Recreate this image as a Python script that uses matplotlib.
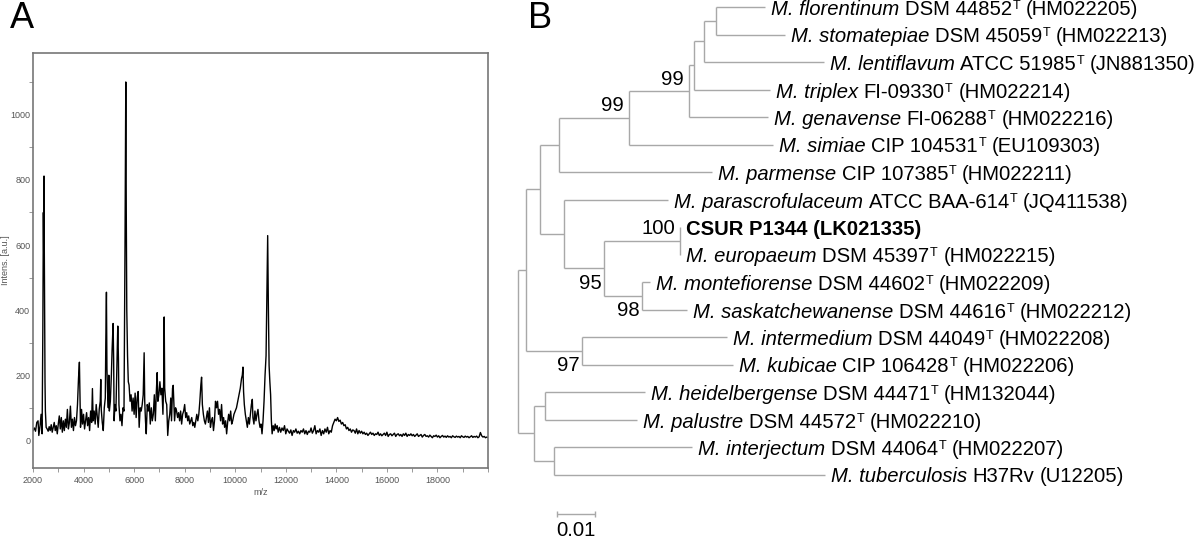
import matplotlib.pyplot as plt
from matplotlib.ticker import MultipleLocator

plt.rcParams['font.family'] = ['Liberation Sans', 'DejaVu Sans']

# ---------------- panel A: MALDI-TOF spectrum ----------------
spec_mz = [
    2000, 2050, 2100, 2150, 2200, 2230, 2280, 2320, 2360, 2390,
    2410, 2425, 2436, 2445, 2460, 2475, 2490, 2520, 2560, 2600,
    2640, 2680, 2720, 2760, 2800, 2840, 2880, 2920, 2960, 3000,
    3040, 3080, 3120, 3160, 3200, 3240, 3280, 3320, 3360, 3400,
    3440, 3480, 3520, 3560, 3600, 3640, 3680, 3720, 3760, 3800,
    3836, 3860, 3880, 3920, 3960, 4000, 4040, 4080, 4120, 4160,
    4200, 4240, 4280, 4320, 4351, 4380, 4420, 4460, 4500, 4540,
    4580, 4620, 4660, 4681, 4700, 4740, 4780, 4820, 4860, 4880,
    4905, 4925, 4950, 4980, 5000, 5020, 5060, 5100, 5130, 5169,
    5190, 5210, 5240, 5280, 5310, 5354, 5380, 5400, 5440, 5480,
    5520, 5560, 5600, 5640, 5671, 5690, 5710, 5740, 5770, 5800,
    5840, 5880, 5920, 5960, 6000, 6040, 6080, 6120, 6160, 6200,
    6240, 6280, 6320, 6360, 6397, 6420, 6450, 6480, 6520, 6560,
    6600, 6640, 6680, 6720, 6760, 6800, 6840, 6880, 6913, 6940,
    6980, 7020, 7060, 7100, 7140, 7170, 7190, 7210, 7250, 7290,
    7330, 7370, 7410, 7450, 7480, 7520, 7546, 7570, 7600, 7640,
    7680, 7720, 7760, 7800, 7840, 7880, 7920, 7960, 8000, 8040,
    8080, 8120, 8160, 8200, 8240, 8280, 8320, 8360, 8400, 8440,
    8480, 8520, 8560, 8600, 8640, 8669, 8700, 8740, 8780, 8820,
    8860, 8900, 8940, 8980, 9020, 9060, 9100, 9140, 9180, 9220,
    9260, 9300, 9340, 9380, 9420, 9460, 9500, 9540, 9580, 9620,
    9660, 9700, 9740, 9780, 9820, 9860, 9900, 9950, 10000, 10050,
    10100, 10150, 10200, 10250, 10280, 10307, 10330, 10360, 10400, 10440,
    10480, 10520, 10560, 10600, 10640, 10676, 10700, 10740, 10780, 10820,
    10860, 10900, 10940, 10980, 11020, 11060, 11100, 11140, 11180, 11220,
    11250, 11284, 11310, 11340, 11370, 11400, 11430, 11460, 11500, 11540,
    11580, 11620, 11660, 11700, 11750, 11800, 11850, 11900, 11950, 12000,
    12050, 12100, 12150, 12200, 12250, 12300, 12350, 12400, 12450, 12500,
    12550, 12600, 12650, 12700, 12750, 12800, 12850, 12900, 12950, 13000,
    13050, 13100, 13150, 13200, 13250, 13300, 13350, 13400, 13450, 13500,
    13550, 13600, 13650, 13700, 13750, 13800, 13850, 13900, 13950, 14000,
    14050, 14100, 14150, 14200, 14250, 14300, 14350, 14400, 14450, 14500,
    14550, 14600, 14650, 14700, 14750, 14800, 14850, 14900, 14950, 15000,
    15050, 15100, 15150, 15200, 15250, 15300, 15350, 15400, 15450, 15500,
    15550, 15600, 15650, 15700, 15750, 15800, 15850, 15900, 15950, 16000,
    16050, 16100, 16150, 16200, 16250, 16300, 16350, 16400, 16450, 16500,
    16550, 16600, 16650, 16700, 16750, 16800, 16850, 16900, 16950, 17000,
    17050, 17100, 17150, 17200, 17250, 17300, 17350, 17400, 17450, 17500,
    17550, 17600, 17650, 17700, 17750, 17800, 17850, 17900, 17950, 18000,
    18050, 18100, 18150, 18200, 18250, 18300, 18350, 18400, 18450, 18500,
    18550, 18600, 18650, 18700, 18750, 18800, 18850, 18900, 18950, 19000,
    19050, 19100, 19150, 19200, 19250, 19300, 19350, 19400, 19450, 19500,
    19550, 19600, 19650, 19700, 19750, 19800, 19850, 19900, 19950, 20000,
]
spec_int = [
    30, 38, 28, 55, 60, 15, 45, 80, 20, 350,
    700, 560, 812, 620, 400, 180, 90, 40, 35, 28,
    42, 30, 48, 25, 40, 55, 30, 45, 20, 50,
    75, 35, 70, 25, 60, 30, 65, 40, 95, 35,
    55, 105, 40, 65, 30, 70, 45, 60, 110, 190,
    240, 120, 40, 95, 50, 80, 35, 60, 85, 45,
    70, 30, 90, 55, 159, 60, 90, 50, 110, 75,
    40, 95, 120, 187, 95, 55, 30, 100, 130, 300,
    455, 220, 150, 100, 200, 90, 120, 200, 280, 359,
    250, 60, 110, 90, 200, 351, 250, 110, 60, 80,
    45, 100, 90, 600, 1101, 700, 400, 260, 180, 170,
    120, 140, 90, 130, 80, 145, 70, 130, 150, 40,
    100, 90, 110, 140, 269, 120, 60, 20, 110, 90,
    115, 50, 100, 60, 80, 140, 60, 150, 208, 120,
    140, 180, 140, 160, 80, 180, 379, 160, 120, 110,
    15, 60, 80, 130, 60, 160, 169, 120, 60, 100,
    90, 70, 85, 60, 90, 50, 80, 90, 110, 70,
    85, 60, 75, 50, 60, 70, 45, 55, 40, 60,
    80, 60, 80, 120, 170, 194, 110, 80, 60, 50,
    70, 90, 55, 100, 40, 60, 70, 30, 60, 120,
    100, 120, 80, 95, 60, 110, 50, 70, 40, 60,
    20, 55, 80, 60, 90, 50, 60, 80, 90, 100,
    120, 140, 160, 190, 200, 225, 150, 110, 80, 60,
    40, 70, 50, 80, 110, 126, 70, 50, 90, 60,
    80, 95, 60, 40, 50, 20, 60, 120, 200, 260,
    440, 629, 420, 230, 180, 140, 60, 20, 45, 30,
    50, 35, 45, 25, 40, 25, 38, 30, 45, 20,
    35, 28, 22, 32, 15, 30, 25, 35, 22, 28,
    20, 30, 25, 35, 20, 30, 18, 28, 25, 38,
    22, 30, 45, 20, 30, 25, 35, 15, 30, 20,
    35, 25, 40, 20, 30, 25, 45, 55, 65, 60,
    70, 58, 62, 50, 55, 45, 48, 35, 40, 30,
    35, 25, 32, 30, 22, 35, 20, 30, 22, 28,
    20, 25, 18, 22, 15, 20, 25, 18, 22, 15,
    20, 18, 25, 15, 20, 14, 18, 22, 15, 25,
    12, 18, 20, 14, 18, 22, 12, 18, 20, 14,
    18, 12, 20, 15, 22, 12, 18, 15, 20, 14,
    18, 12, 16, 20, 12, 15, 18, 10, 15, 18,
    12, 14, 10, 16, 12, 8, 14, 12, 16, 10,
    14, 8, 12, 15, 10, 13, 9, 14, 10, 12,
    8, 14, 11, 9, 13, 10, 12, 8, 14, 11,
    9, 13, 10, 12, 8, 11, 14, 9, 12, 10,
    13, 8, 11, 24, 14, 10, 12, 8, 10, 9,
]

# ---------------- panel B: 16S rRNA tree ----------------
tip_keys = ['flo', 'sto', 'len', 'tri', 'gen', 'sim', 'par', 'psc', 'csur',
            'eur', 'mon', 'sas', 'int', 'kub', 'hei', 'pal', 'inj', 'tub']
tip_species = ['M. florentinum', 'M. stomatepiae', 'M. lentiflavum', 'M. triplex',
               'M. genavense', 'M. simiae', 'M. parmense', 'M. parascrofulaceum', '',
               'M. europaeum', 'M. montefiorense', 'M. saskatchewanense',
               'M. intermedium', 'M. kubicae', 'M. heidelbergense', 'M. palustre',
               'M. interjectum', 'M. tuberculosis']
tip_strain = ['DSM 44852', 'DSM 45059', 'ATCC 51985', 'FI-09330', 'FI-06288',
              'CIP 104531', 'CIP 107385', 'ATCC BAA-614', 'CSUR P1344', 'DSM 45397',
              'DSM 44602', 'DSM 44616', 'DSM 44049', 'CIP 106428', 'DSM 44471',
              'DSM 44572', 'DSM 44064', 'H37Rv']
tip_type = [True] * 8 + [False] + [True] * 8 + [False]
tip_acc = ['HM022205', 'HM022213', 'JN881350', 'HM022214', 'HM022216', 'EU109303',
           'HM022211', 'JQ411538', 'LK021335', 'HM022215', 'HM022209', 'HM022212',
           'HM022208', 'HM022206', 'HM132044', 'HM022210', 'HM022207', 'U12205']
# distance from root (substitutions/site)
tip_depth = [0.0650, 0.0702, 0.0804, 0.0662, 0.0657, 0.0670, 0.0510, 0.0394, 0.0426,
             0.0426, 0.0347, 0.0444, 0.0549, 0.0565, 0.0333, 0.0312, 0.0457, 0.0807]

# internal nodes, children listed before parents
node_keys = ['fs', 'fsl', 'fslt', 'b99a', 'b99b', 'c', 'b100', 'b98', 'b95', 'e',
             'd', 'b97', 'g', 'hp', 'it', 'h', 'root']
node_depth = [0.0519, 0.0488, 0.0463, 0.0449, 0.0291, 0.0108, 0.0426, 0.0325, 0.0226,
              0.0121, 0.0057, 0.0167, 0.0019, 0.0070, 0.0094, 0.0042, 0.0]
node_children = [['flo', 'sto'], ['fs', 'len'], ['fsl', 'tri'], ['fslt', 'gen'],
                 ['b99a', 'sim'], ['b99b', 'par'], ['csur', 'eur'], ['mon', 'sas'],
                 ['b100', 'b98'], ['psc', 'b95'], ['c', 'e'], ['int', 'kub'],
                 ['d', 'b97'], ['hei', 'pal'], ['inj', 'tub'], ['hp', 'it'], ['g', 'h']]

boot_nodes = ['b99a', 'b99b', 'b100', 'b95', 'b98', 'b97']
boot_values = [99, 99, 100, 95, 98, 97]
boot_side = ['above', 'above', 'above', 'below', 'below', 'below']

scale_len = 0.01

fig = plt.figure(figsize=(12, 5.4), dpi=100)
renderer = fig.canvas.get_renderer()

# ---- A ----
axA = fig.add_axes([33 / 1200, 1 - 468 / 540, 455 / 1200, 415 / 540])
axA.plot(spec_mz, spec_int, color='black', lw=1.0)
axA.set_xlim(2000, 20000)
axA.set_ylim(-85, 1190)
axA.set_xticks(range(2000, 20000, 2000))
axA.xaxis.set_minor_locator(MultipleLocator(1000))
axA.set_yticks(range(0, 1001, 200))
axA.yaxis.set_minor_locator(MultipleLocator(100))
for s in axA.spines.values():
    s.set_color('#777777')
    s.set_linewidth(1.2)
axA.tick_params(which='both', direction='out', color='#999999', labelsize=6.5,
                labelcolor='#555555', length=3, width=0.7, pad=3)
axA.tick_params(axis='y', which='major', length=0, pad=2)
for lab in axA.get_xticklabels() + axA.get_yticklabels():
    lab.set_family(['Liberation Sans Narrow', 'Liberation Sans'])
axA.set_xlabel('m/z', fontsize=6.5, color='#555555', labelpad=2)
axA.set_ylabel('Intens. [a.u.]', fontsize=6.5, color='#555555')
axA.yaxis.set_label_coords(-23 / 455, 0.5)
fig.text(10 / 1200, 1 - 18 / 540, 'A', fontsize=26, va='center', ha='left')

# ---- B ----
axB = fig.add_axes([500 / 1200, 0, 700 / 1200, 1])
axB.set_xlim(-18.3 / 3800, 681.7 / 3800)
axB.set_ylim((540 - 7) / 27.5, -7 / 27.5)
axB.axis('off')

line_kw = dict(color='#a8a8a8', lw=1.0, solid_capstyle='butt')
xs = dict(zip(tip_keys, tip_depth))
ys = {k: i for i, k in enumerate(tip_keys)}
for k, d, ch in zip(node_keys, node_depth, node_children):
    xs[k] = d
    ys[k] = (ys[ch[0]] + ys[ch[-1]]) / 2
    axB.plot([d, d], [ys[ch[0]], ys[ch[-1]]], **line_kw)
    for c in ch:
        axB.plot([d, xs[c]], [ys[c], ys[c]], **line_kw)

fs = 14.6


def text_w(s, **kw):
    t = fig.text(0, 0, s, fontsize=kw.pop('fontsize', fs), **kw)
    w = t.get_window_extent(renderer).width
    t.remove()
    return w


space_w = text_w('M M') - text_w('MM')


def put_label(x, y, pieces):
    # pieces: (text, style, weight, size, raise_px, gap_before)
    dx = 6
    for txt, style, weight, size, rise, gap in pieces:
        dx += gap
        t = axB.annotate(txt, xy=(x, y), xytext=(dx, -8 + rise),
                         textcoords='offset pixels', ha='left', va='baseline',
                         fontsize=size, fontstyle=style, fontweight=weight)
        dx += t.get_window_extent(renderer).width


for k, sp, st, t, acc in zip(tip_keys, tip_species, tip_strain, tip_type, tip_acc):
    if sp:
        pieces = [(sp, 'italic', 'normal', fs, 0, 0),
                  (st, 'normal', 'normal', fs, 0, space_w)]
        if t:
            pieces.append(('T', 'normal', 'normal', fs * 0.62, 6, 0.5))
        pieces.append(('(%s)' % acc, 'normal', 'normal', fs, 0, space_w))
    else:
        pieces = [('%s (%s)' % (st, acc), 'normal', 'bold', fs, 0, 0)]
    put_label(xs[k], ys[k], pieces)

for k, v, side in zip(boot_nodes, boot_values, boot_side):
    off = (-5, 12) if side == 'above' else (-2, -15)
    axB.annotate(str(v), xy=(xs[k], ys[k]), xytext=off, textcoords='offset pixels',
                 ha='right', va='center', fontsize=fs)

# scale bar
sb_x0 = 38.7 / 3800
sb_y = (514 - 7) / 27.5
axB.plot([sb_x0, sb_x0 + scale_len], [sb_y, sb_y], **line_kw)
for xx in (sb_x0, sb_x0 + scale_len):
    axB.plot([xx, xx], [sb_y - 0.1, sb_y + 0.1], **line_kw)
axB.text(sb_x0 + scale_len / 2, (531 - 7) / 27.5, '%.2f' % scale_len,
         ha='center', va='center', fontsize=fs)
fig.text(528 / 1200, 1 - 18 / 540, 'B', fontsize=26, va='center', ha='left')

fig.savefig('out.png', dpi=100)
